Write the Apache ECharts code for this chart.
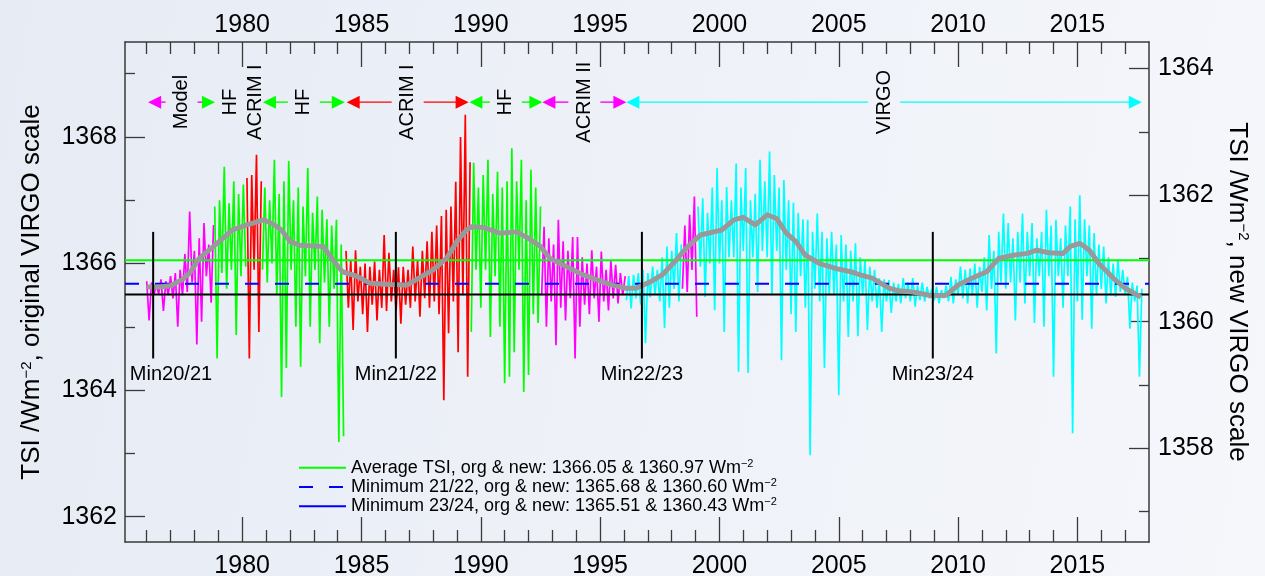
<!DOCTYPE html>
<html>
<head>
<meta charset="utf-8">
<script src="https://cdn.jsdelivr.net/npm/echarts@6/dist/echarts.min.js"></script>
<style>
html,body{margin:0;padding:0;}
#c{width:1265px;height:576px;background:linear-gradient(100deg,#e6ebf4 0%,#eef1f8 50%,#f5f7fb 100%);}
</style>
</head>
<body>
<div id="c"></div>
<script>
// ---------------- axes / tick labels ----------------
const xMajorTicks = [1980, 1985, 1990, 1995, 2000, 2005, 2010, 2015];
const xMinorTicks = [1976,1977,1978,1979,1981,1982,1983,1984,1986,1987,1988,1989,1991,1992,1993,1994,1996,1997,1998,1999,2001,2002,2003,2004,2006,2007,2008,2009,2011,2012,2013,2014,2016,2017];
const yLeftTicks = [1362, 1364, 1366, 1368];
const yLeftMinor = [1363, 1365, 1367, 1369];
const yRightTicks = [1358, 1360, 1362, 1364];
const yRightMinor = [1357, 1359, 1361, 1363];
const X_MIN = 1975.09, X_MAX = 2018.0;
const Y_MIN = 1361.6, Y_MAX = 1369.5;
const scaleOffset = 5.08;   // original VIRGO scale minus new VIRGO scale

// ---------------- daily TSI segments (step 0.1 yr) ----------------
const segStep = 0.1;
const segStarts = [1976.0, 1978.85, 1980.2, 1980.85, 1984.35, 1989.6, 1992.55, 1996.1, 1998.45, 1999.1];
const segColors = ['#ff00ff', '#00ff00', '#ff0000', '#00ff00', '#ff0000', '#00ff00', '#ff00ff', '#00ffff', '#ff00ff', '#00ffff'];

const modelVals = [1365.72,1365.10,1365.70,1365.50,1365.66,1365.52,1365.75,1365.25,1365.72,1365.50,1365.80,1365.45,1365.85,1365.00,1365.90,1365.50,1366.15,1365.55,1366.82,1365.70,1366.20,1364.72,1366.40,1365.08,1366.64,1365.80,1366.30,1365.38,1366.61];
const hfVals1 = [1366.90,1364.50,1367.00,1365.85,1367.53,1365.60,1366.95,1365.90,1367.30,1364.87,1367.10,1365.80,1367.25,1365.95];
const acrimVals1 = [1367.35,1364.50,1367.40,1365.90,1367.72,1364.92,1367.30];
const hfVals2 = [1365.90,1367.20,1365.70,1367.00,1366.00,1367.64,1365.50,1367.10,1363.89,1367.30,1364.35,1367.62,1365.90,1367.00,1365.00,1367.20,1364.37,1366.90,1365.80,1367.51,1365.00,1366.80,1365.90,1367.06,1364.74,1366.85,1365.70,1366.70,1365.00,1366.60,1365.60,1366.69,1363.18,1366.30,1363.27];
const acrimVals2 = [1366.20,1365.30,1366.05,1364.95,1366.21,1365.40,1365.95,1365.20,1366.00,1364.92,1365.95,1365.35,1366.03,1365.10,1365.90,1365.30,1366.45,1365.25,1366.17,1365.40,1365.90,1365.26,1365.94,1365.05,1365.95,1365.35,1365.90,1365.30,1366.27,1365.40,1366.05,1365.16,1366.20,1365.45,1366.35,1365.30,1366.50,1365.40,1366.60,1365.20,1366.75,1363.84,1366.85,1364.90,1366.90,1365.40,1367.29,1364.60,1368.00,1365.50,1368.35,1364.21,1367.60];
const hfVals3 = [1364.92,1367.59,1365.90,1367.20,1365.30,1367.40,1365.90,1367.64,1364.84,1367.10,1365.80,1367.45,1365.00,1367.20,1364.11,1367.30,1364.21,1367.82,1364.60,1367.30,1365.90,1367.64,1363.97,1367.00,1364.24,1367.48,1365.20,1367.20,1365.06,1366.90];
const acrim2Vals = [1365.50,1366.58,1365.00,1366.40,1365.40,1366.30,1364.71,1366.69,1365.30,1366.35,1365.10,1366.20,1365.45,1366.42,1364.50,1366.42,1365.00,1366.10,1365.35,1366.00,1365.20,1366.21,1365.45,1365.95,1365.08,1366.19,1365.40,1365.90,1365.26,1366.05,1365.45,1365.98,1365.37,1365.85,1365.50,1365.80];
const virgoVals1 = [1365.42,1365.80,1365.29,1365.82,1365.45,1365.85,1365.35,1365.90,1364.74,1365.85,1365.47,1365.95,1365.50,1365.90,1365.40,1366.10,1364.98,1366.27,1365.30,1366.20,1365.60,1366.48,1365.40,1366.30];
const gapVals = [1365.60,1366.60,1365.55,1366.77,1365.90,1367.06,1365.16];
const virgoVals2 = [
 1366.90,1365.95,1367.03,1365.47,1366.80, 1366.00,1367.20,1365.26,1367.51,1366.00,
 1367.00,1364.92,1367.21,1366.10,1367.00, 1366.10,1367.58,1364.29,1367.20,1366.20,
 1367.51,1364.27,1367.00,1366.10,1367.10, 1365.55,1367.64,1366.20,1367.30,1366.10,
 1367.77,1365.50,1367.40,1366.20,1367.20, 1364.47,1367.32,1365.90,1367.00,1365.20,
 1366.96,1364.92,1366.80,1365.80,1366.70, 1365.30,1366.69,1362.97,1366.50,1365.60,
 1366.79,1365.40,1366.50,1364.35,1366.40, 1365.50,1366.50,1365.50,1366.30,1363.92,
 1366.45,1365.40,1366.30,1364.84,1366.20, 1365.40,1366.32,1364.85,1366.10,1365.50,
 1366.06,1364.95,1365.95,1365.40,1365.90, 1365.30,1365.77,1364.92,1365.75,1365.40,
 1365.74,1365.22,1365.70,1365.40,1365.68, 1365.37,1365.77,1365.45,1365.70,1365.40,
 1365.77,1365.32,1365.65,1365.42,1365.70, 1365.40,1365.63,1365.45,1365.60,1365.42,
 1365.63,1365.37,1365.58,1365.45,1365.65, 1365.40,1365.79,1365.37,1365.75,1365.50,
 1365.95,1365.45,1365.90,1365.37,1365.92, 1365.50,1366.00,1365.30,1365.95,1365.55,
 1366.10,1365.26,1366.45,1365.60,1366.20, 1364.58,1366.50,1365.70,1366.79,1365.60,
 1366.64,1365.70,1366.40,1365.10,1366.50, 1365.70,1366.79,1365.37,1366.50,1365.80,
 1366.64,1365.06,1366.40,1365.80,1366.50, 1365.00,1366.85,1365.80,1366.60,1364.21,
 1366.69,1365.80,1366.40,1365.30,1366.60, 1365.80,1366.90,1363.32,1366.70,1365.40,
 1367.08,1365.11,1366.70,1365.80,1366.60, 1364.97,1366.48,1365.50,1366.30,1365.60,
 1366.27,1365.37,1366.10,1365.50,1366.00, 1365.47,1366.06,1365.55,1365.90,1365.50,
 1365.79,1364.97,1365.70,1365.40,1365.65, 1364.21,1365.60
];
const segValues = [modelVals, hfVals1, acrimVals1, hfVals2, acrimVals2, hfVals3, acrim2Vals, virgoVals1, gapVals, virgoVals2];

// ---------------- 81-day running mean ----------------
const smoothTSI = [[1976.0,1365.63],[1976.5,1365.63],[1977.0,1365.65],[1977.5,1365.75],[1977.8,1365.85],[1978.2,1366.08],[1978.8,1366.27],[1979.2,1366.40],[1979.6,1366.53],[1980.2,1366.61],[1980.9,1366.69],[1981.3,1366.62],[1981.65,1366.53],[1982.0,1366.35],[1982.4,1366.29],[1982.8,1366.28],[1983.4,1366.27],[1983.8,1366.06],[1984.2,1365.87],[1984.8,1365.80],[1985.35,1365.69],[1986.2,1365.67],[1986.9,1365.66],[1987.4,1365.77],[1988.0,1365.90],[1988.56,1366.08],[1989.0,1366.35],[1989.4,1366.53],[1989.6,1366.58],[1990.1,1366.57],[1990.8,1366.48],[1991.5,1366.50],[1991.9,1366.42],[1992.5,1366.27],[1992.9,1366.08],[1993.6,1365.95],[1994.3,1365.82],[1995.1,1365.71],[1995.6,1365.65],[1996.1,1365.61],[1996.5,1365.61],[1997.1,1365.71],[1997.6,1365.82],[1998.2,1366.06],[1998.6,1366.24],[1999.2,1366.45],[2000.1,1366.53],[2000.6,1366.69],[2001.0,1366.73],[2001.5,1366.61],[2002.0,1366.77],[2002.4,1366.71],[2002.8,1366.48],[2003.2,1366.35],[2003.6,1366.13],[2004.2,1366.00],[2004.9,1365.92],[2005.5,1365.87],[2005.9,1365.82],[2006.4,1365.77],[2007.1,1365.61],[2007.5,1365.57],[2008.1,1365.55],[2008.9,1365.49],[2009.5,1365.50],[2010.0,1365.66],[2010.6,1365.77],[2011.2,1365.87],[2011.7,1366.08],[2012.3,1366.13],[2012.9,1366.16],[2013.3,1366.21],[2013.8,1366.17],[2014.4,1366.16],[2014.7,1366.27],[2015.1,1366.32],[2015.5,1366.21],[2015.9,1366.00],[2016.5,1365.77],[2017.0,1365.61],[2017.66,1365.47]];

// ---------------- reference levels (legend) ----------------
const refNames = ['avg', 'min2122', 'min2324'];
const refLabels = ['Average TSI', 'Minimum 21/22', 'Minimum 23/24'];
const levelsOrg = [1366.05, 1365.68, 1365.51];
const levelsNew = [1360.97, 1360.60, 1360.43];

// ---------------- solar minima markers ----------------
const minNames = ['Min20/21', 'Min21/22', 'Min22/23', 'Min23/24'];
const minYears = [1976.27, 1986.44, 1996.75, 2008.94];
const minLineTop = 1366.5, minLineBottom = 1364.5, minLabelLevel = 1364.25;

// ---------------- instrument periods (top annotations) ----------------
const annoNames = ['Model', 'HF', 'ACRIM I', 'HF', 'ACRIM I', 'HF', 'ACRIM II', 'VIRGO'];
const annoFrom = [1976.06, 1979.49, 1980.57, 1980.87, 1984.38, 1989.52, 1992.58, 1996.10];
const annoTo   = [1978.86, 1979.49, 1980.57, 1984.30, 1989.49, 1992.58, 1996.10, 2017.70];
const annoColors = ['#ff00ff', '#000000', '#000000', '#00ff00', '#ff0000', '#00ff00', '#ff00ff', '#00ffff'];
const annoHeadRight = ['#00ff00', null, null, null, null, null, null, null];
const annoLevel = 1368.55;

// =====================================================
const FONT = '"Liberation Sans", Arial, Helvetica, sans-serif';
const AX = '#3a3a3a';
const chart = echarts.init(document.getElementById('c'), null, {renderer: 'canvas'});

function xAxisDef(pos, ticks, len, major) {
  return {
    type: 'value', min: X_MIN, max: X_MAX, position: pos,
    axisLine: {show: major, onZero: false, lineStyle: {color: AX, width: 1.5}},
    axisTick: {show: true, inside: true, length: len, customValues: ticks, lineStyle: {color: AX, width: 1.3}},
    axisLabel: {show: major, customValues: ticks, formatter: v => String(v), fontSize: 25, color: '#000', fontFamily: FONT, margin: pos === 'top' ? 4 : 12},
    splitLine: {show: false}
  };
}
function yAxisDef(pos, min, max, ticks, len, major, name, rot, gap) {
  const a = {
    type: 'value', min: min, max: max, position: pos,
    axisLine: {show: major, onZero: false, lineStyle: {color: AX, width: 1.5}},
    axisTick: {show: true, inside: true, length: len, customValues: ticks, lineStyle: {color: AX, width: 1.3}},
    axisLabel: {show: major, customValues: ticks, formatter: v => String(v), fontSize: 25, color: '#000', fontFamily: FONT, margin: pos === 'left' ? 8 : 9},
    splitLine: {show: false}
  };
  if (name) {
    a.name = name; a.nameLocation = 'middle'; a.nameGap = gap; a.nameRotate = rot;
    a.nameTextStyle = {fontSize: 26, color: '#000', fontFamily: FONT,
      rich: {sup: {fontSize: 15, verticalAlign: 'top', fontFamily: FONT, color: '#000'}}};
  }
  return a;
}

const series = [];
segValues.forEach((vals, k) => {
  series.push({
    type: 'line', xAxisIndex: 0, yAxisIndex: 0, silent: true, symbol: 'none', showSymbol: false,
    data: vals.map((v, i) => [+(segStarts[k] + i * segStep).toFixed(3), v]),
    lineStyle: {color: segColors[k], width: 1.7}, z: 2, animation: false
  });
});
const refStyles = [
  {color: '#00ff00', width: 2, type: 'solid'},
  {color: '#0000ff', width: 2, type: [14, 16]},
  {color: '#000000', width: 2, type: 'solid'}
];
refNames.forEach((n, i) => {
  series.push({
    name: n, type: 'line', xAxisIndex: 0, yAxisIndex: 0, silent: true, symbol: 'none', showSymbol: false,
    data: [[X_MIN, levelsOrg[i]], [X_MAX, levelsOrg[i]]],
    lineStyle: refStyles[i], itemStyle: {color: refStyles[i].color}, z: 3, animation: false
  });
});
series.push({
  type: 'line', xAxisIndex: 0, yAxisIndex: 0, silent: true, symbol: 'none', showSymbol: false,
  data: smoothTSI, lineStyle: {color: '#999999', width: 5, join: 'round'}, z: 4, animation: false
});
series.push({
  type: 'custom', xAxisIndex: 0, yAxisIndex: 0, silent: true, z: 5, animation: false,
  data: minYears.map((y, i) => [y, i]),
  renderItem: function (params, api) {
    const yr = api.value(0), i = api.value(1);
    const p1 = api.coord([yr, minLineTop]);
    const p2 = api.coord([yr, minLineBottom]);
    const pl = api.coord([yr, minLabelLevel]);
    const left = params.coordSys.x;
    const cx = Math.max(pl[0], left + 5 + 41);
    return {type: 'group', children: [
      {type: 'line', shape: {x1: p1[0], y1: p1[1], x2: p2[0], y2: p2[1]}, style: {stroke: '#000', lineWidth: 2}},
      {type: 'text', x: cx, y: pl[1], style: {text: minNames[i], fill: '#000', fontSize: 20, fontFamily: FONT, align: 'center', verticalAlign: 'middle'}}
    ]};
  }
});
series.push({
  type: 'custom', xAxisIndex: 0, yAxisIndex: 0, silent: true, z: 5, animation: false,
  data: annoNames.map((n, i) => [annoFrom[i], annoTo[i], i]),
  encode: {x: [0, 1]},
  renderItem: function (params, api) {
    const i = api.value(2);
    const a = annoFrom[i], b = annoTo[i];
    const pL = api.coord([a, annoLevel]);
    const pR = api.coord([b, annoLevel]);
    const cx = (pL[0] + pR[0]) / 2, cy = pL[1];
    const ch = [];
    if (b > a) {
      const col = annoColors[i], colR = annoHeadRight[i] || col;
      const h = 13, w = 6.5, gap = 16;
      ch.push({type: 'line', shape: {x1: pL[0] + h - 1, y1: cy, x2: cx - gap, y2: cy}, style: {stroke: col, lineWidth: 1.4}});
      ch.push({type: 'line', shape: {x1: cx + gap, y1: cy, x2: pR[0] - h + 1, y2: cy}, style: {stroke: col, lineWidth: 1.4}});
      ch.push({type: 'polygon', shape: {points: [[pL[0], cy], [pL[0] + h, cy - w], [pL[0] + h, cy + w]]}, style: {fill: col}});
      ch.push({type: 'polygon', shape: {points: [[pR[0], cy], [pR[0] - h, cy - w], [pR[0] - h, cy + w]]}, style: {fill: colR}});
    }
    ch.push({type: 'text', x: cx, y: cy, rotation: Math.PI / 2,
      style: {text: annoNames[i], fill: '#000', fontSize: 20, fontFamily: FONT, align: 'center', verticalAlign: 'middle'}});
    return {type: 'group', children: ch};
  }
});

const option = {
  backgroundColor: 'transparent',
  animation: false,
  grid: {left: 125, right: 116, top: 42, bottom: 34, outerBoundsMode: 'none', containLabel: false},
  xAxis: [
    xAxisDef('bottom', xMajorTicks, 25, true),
    xAxisDef('top', xMajorTicks, 25, true),
    xAxisDef('bottom', xMinorTicks, 12, false),
    xAxisDef('top', xMinorTicks, 12, false)
  ],
  yAxis: [
    yAxisDef('left', Y_MIN, Y_MAX, yLeftTicks, 20, true, 'TSI /Wm{sup|\u22122}, original VIRGO scale', 90, 80),
    yAxisDef('right', Y_MIN - scaleOffset, Y_MAX - scaleOffset, yRightTicks, 20, true, 'TSI /Wm{sup|\u22122}, new VIRGO scale', -90, 67),
    yAxisDef('left', Y_MIN, Y_MAX, yLeftMinor, 10, false),
    yAxisDef('right', Y_MIN - scaleOffset, Y_MAX - scaleOffset, yRightMinor, 10, false)
  ],
  legend: {
    orient: 'vertical', left: 298, top: 458, padding: 0, itemGap: 0, itemWidth: 47, itemHeight: 12,
    selectedMode: false,
    itemStyle: {opacity: 0},
    data: [
      {name: 'avg', itemStyle: {opacity: 0}},
      {name: 'min2122', itemStyle: {opacity: 0}},
      {name: 'min2324', lineStyle: {color: '#0000ff'}, itemStyle: {color: '#0000ff', opacity: 0}}
    ],
    formatter: function (name) {
      const i = refNames.indexOf(name);
      return refLabels[i] + ', org & new: ' + levelsOrg[i].toFixed(2) + ' & ' + levelsNew[i].toFixed(2) + ' Wm{sup|\u22122}';
    },
    textStyle: {fontSize: 18, color: '#000', fontFamily: FONT, lineHeight: 19.3,
      rich: {sup: {fontSize: 11, verticalAlign: 'top', color: '#000', fontFamily: FONT, lineHeight: 19.3}}}
  },
  series: series
};
chart.setOption(option);
</script>
</body>
</html>
